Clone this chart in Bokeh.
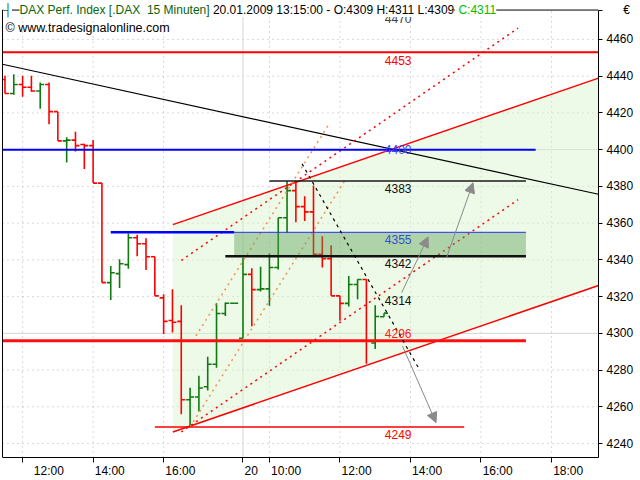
import numpy as np
from bokeh.plotting import figure
from bokeh.models import (Range1d, FixedTicker, Label, Arrow, NormalHead, ColumnDataSource)
from bokeh.core.properties import value
from bokeh.embed import file_html
from bokeh.resources import INLINE

# ---------------- data ----------------
bar_index = list(range(-2, 42))
opens = [4438.2, 4430.6, 4435.5, 4434.0, 4431.9, 4435.5, 4420.7, 4404.8, 4405.2, 4402.8,
         4402.2, 4381.8, 4327.6, 4332.5, 4337.4, 4352.0, 4348.8, 4341.7, 4319.3, 4307.0,
         4306.5, 4263.8, 4265.3, 4270.9, 4283.2, 4310.8, 4316.4, 4297.3, 4332.1, 4323.8,
         4324.2, 4335.8, 4362.9, 4377.7, 4369.0, 4366.1, 4343.0, 4340.6, 4320.4, 4316.3,
         4326.6, 4329.3, 4294.7, 4309.0]
highs = [4440.2, 4441.1, 4440.2, 4440.2, 4436.6, 4436.6, 4420.7, 4406.8, 4409.8, 4403.2,
         4405.3, 4381.8, 4336.6, 4340.3, 4354.4, 4353.7, 4351.7, 4341.7, 4321.3, 4324.0,
         4315.3, 4270.4, 4276.9, 4287.2, 4316.4, 4316.8, 4316.4, 4341.2, 4335.4, 4336.3,
         4343.5, 4362.9, 4383.0, 4382.7, 4374.6, 4380.5, 4352.9, 4347.9, 4320.4, 4331.2,
         4329.4, 4329.4, 4315.3, 4311.0]
lows = [4430.6, 4429.9, 4428.8, 4431.5, 4422.3, 4413.8, 4404.8, 4393.0, 4399.0, 4389.4,
        4381.8, 4327.6, 4318.2, 4324.7, 4335.2, 4342.0, 4334.5, 4320.4, 4299.6, 4300.5,
        4255.9, 4249.0, 4257.5, 4268.9, 4281.2, 4309.5, 4316.4, 4297.3, 4303.8, 4322.8,
        4315.0, 4334.8, 4354.8, 4360.5, 4361.2, 4342.4, 4335.8, 4320.4, 4306.8, 4314.6,
        4318.6, 4283.4, 4291.5, 4309.0]
closes = [4430.6, 4435.5, 4434.0, 4431.9, 4435.5, 4420.7, 4404.8, 4405.2, 4402.2, 4402.2,
          4381.8, 4327.6, 4333.0, 4337.9, 4352.0, 4348.8, 4341.7, 4320.4, 4306.5, 4306.0,
          4263.8, 4265.3, 4270.2, 4283.2, 4310.8, 4316.4, 4316.4, 4332.1, 4323.8, 4324.2,
          4335.8, 4362.9, 4377.7, 4369.0, 4366.1, 4343.0, 4340.6, 4320.4, 4316.3, 4326.6,
          4329.3, 4295.8, 4309.2, 4311.0]

time_ticks = [0, 8, 16, 25, 28, 36, 44, 52, 60]
time_labels = ["12:00", "14:00", "16:00", "20", "10:00", "12:00", "14:00", "16:00", "18:00"]
day_break = 25
price_ticks = list(range(4240, 4461, 20))
solid_price_grid = [4300, 4400]
currency = "\u20ac"

# horizontal level lines (value, from bar, to bar)
hl_values = [4453, 4400, 4355, 4355, 4383, 4342, 4296, 4249]
hl_from = [-2.28, -2.28, 10.0, 24.0, 28.0, 23.0, -2.28, 15.0]
hl_to = [65.33, 58.2, 24.0, 57.1, 57.1, 57.1, 57.1, 50.1]

# zone 4342-4355
zone_from, zone_to = 24.0, 57.1
zone_low, zone_high = 4342, 4355

# level annotations
level_values = [4470, 4453, 4400, 4383, 4355, 4342, 4314, 4296, 4249]
level_text = [str(v) for v in level_values]
level_at = 42.6

# long down trend line (bar, value)
trend_x = [-2.28, 65.33]
trend_y = [4446.5, 4375.7]

# channels: start bar, upper start value, lower start value, slope / bar
solid_ch = dict(start=17.05, end=65.33, up=4359.2, lo=4246.3, slope=1.652)
dotted_ch = dict(start=18.0, end=56.2, up=4339.7, lo=4246.3, slope=3.31)
orange_up = dict(start=19.3, end=34.7, v=4295.8, slope=7.64)
orange_lo = dict(start=19.0, end=36.5, v=4249.0, slope=7.64)

# projection (dashed)
proj_x = [31.7, 45.1]
proj_y = [4392.3, 4279.6]

# scenario arrows (x0, y0, x1, y1)
arrows = [(43.0, 4322.1, 46.0, 4352.5),
          (48.1, 4341.4, 51.1, 4382.0),
          (43.1, 4293.0, 46.9, 4251.4)]

# ---------------- frame geometry ----------------
X_LEFT, X_RIGHT = -2.28, 65.33       # plot borders in bar units
Y_BOTTOM, Y_TOP = 4232.4, 4476.0     # bottom border / header line
FONT = "Liberation Sans"

p = figure(width=636, height=480, output_backend="svg", toolbar_location=None,
           x_range=Range1d(-2.506, X_RIGHT), y_range=Range1d(Y_BOTTOM, 4481.2),
           min_border_left=0, min_border_right=35, min_border_top=0, min_border_bottom=21,
           y_axis_location="right")
p.background_fill_color = "white"
p.border_fill_color = "white"
p.outline_line_color = None
p.xgrid.visible = False
p.ygrid.visible = False

NB = "\u00a0"
xa = p.xaxis[0]
xa.ticker = FixedTicker(ticks=time_ticks)
xa.major_label_overrides = {t: NB * (5 if len(l) < 3 else 10) + l for t, l in zip(time_ticks, time_labels)}
xa.bounds = (X_LEFT, X_RIGHT)
xa.major_tick_out = 5
xa.major_tick_in = 0
xa.minor_tick_out = 0
xa.minor_tick_in = 0
xa.major_label_standoff = 1
xa.major_label_text_font = FONT
xa.major_label_text_font_size = "12px"
xa.major_label_text_color = "black"
xa.axis_line_color = "black"
xa.major_tick_line_color = "black"

ya = p.yaxis[0]
ya.ticker = FixedTicker(ticks=price_ticks + [Y_TOP])
ya.major_label_overrides = {Y_TOP: NB * 5 + currency}
ya.bounds = (Y_BOTTOM, Y_TOP)
ya.major_tick_out = 4
ya.major_tick_in = 0
ya.minor_tick_out = 0
ya.minor_tick_in = 0
ya.major_label_standoff = 4
ya.major_label_text_font = FONT
ya.major_label_text_font_size = "12px"
ya.major_label_text_color = "black"
ya.axis_line_color = "black"

# grid
gx = [t for t in time_ticks if t != day_break]
p.segment(x0=gx, y0=[Y_BOTTOM] * len(gx), x1=gx, y1=[Y_TOP] * len(gx),
          line_color="#b4b4b4", line_dash="1 4", line_width=1, level="underlay")
gy = [t for t in price_ticks if t not in solid_price_grid]
p.segment(x0=[X_LEFT] * len(gy), y0=gy, x1=[X_RIGHT] * len(gy), y1=gy,
          line_color="#b4b4b4", line_dash="1 4", line_width=1, level="underlay")
p.segment(x0=[X_LEFT] * 2, y0=solid_price_grid, x1=[X_RIGHT] * 2, y1=solid_price_grid,
          line_color="#d4d4d4", line_width=1, level="underlay")
p.segment(x0=[day_break], y0=[Y_BOTTOM], x1=[day_break], y1=[Y_TOP],
          line_color="#d4d4d4", line_width=1, level="underlay")

# light green channel fill
s = solid_ch
span_s = s["end"] - s["start"]
p.patch([s["start"], s["end"], s["end"], s["start"]],
        [s["up"], s["up"] + s["slope"] * span_s, s["lo"] + s["slope"] * span_s, s["lo"]],
        fill_color="#d6f5cc", fill_alpha=0.45, line_color=None)

# bars
idx = np.array(bar_index, dtype=float)
o = np.array(opens); h = np.array(highs); l = np.array(lows); c = np.array(closes)
cols = ["#0f7a0f" if cc >= oo else "#ff0000" for oo, cc in zip(o, c)]
src = ColumnDataSource(dict(x=idx, xl=np.maximum(idx - 0.45, X_LEFT), xr=idx + 0.45,
                            o=o, h=h, l=l, c=c, col=cols))
p.segment("x", "l", "x", "h", source=src, line_color="col", line_width=1.6)
p.segment("xl", "o", "x", "o", source=src, line_color="col", line_width=1.6)
p.segment("x", "c", "xr", "c", source=src, line_color="col", line_width=1.6)

# trend line
p.line(trend_x, trend_y, line_color="black", line_width=1.2)

# channel lines
for key in ("up", "lo"):
    p.line([s["start"], s["end"]], [s[key], s[key] + s["slope"] * span_s],
           line_color="#ff0000", line_width=1.5)
d = dotted_ch
for key in ("up", "lo"):
    p.line([d["start"], d["end"]], [d[key], d[key] + d["slope"] * (d["end"] - d["start"])],
           line_color="#ff0000", line_width=1.5, line_dash="2 4")
for ch in (orange_up, orange_lo):
    p.line([ch["start"], ch["end"]], [ch["v"], ch["v"] + ch["slope"] * (ch["end"] - ch["start"])],
           line_color="#f29050", line_width=1.5, line_dash="2 4")

# zone
p.quad(left=[zone_from], right=[zone_to], bottom=[zone_low], top=[zone_high],
       fill_color="#5a9e50", fill_alpha=0.42, line_color=None)

# horizontal levels
hl_colors = ["#ff0000", "#0000ff", "#0000ff", "#2a2aff", "#1a1a1a", "#111111", "#ff1010", "#ff0000"]
hl_widths = [2, 2, 2.5, 1, 1.5, 2.5, 3, 1.5]
for v, a, b, col, w in zip(hl_values, hl_from, hl_to, hl_colors, hl_widths):
    p.line([a, b], [v, v], line_color=col, line_width=w)

# projection
p.line(proj_x, proj_y, line_color="black", line_width=1.2, line_dash="3 4")

# level texts
lvl_colors = ["#404040", "#ff0000", "#4040ff", "#111111", "#3050d0", "#111111", "#111111", "#ff2020", "#ff0000"]
lvl_offsets = [-3, 8, 0, 8, 7, 7, -7, -7, 7]
p.text(x=[level_at] * len(level_values), y=level_values, text=level_text,
       text_color=lvl_colors, y_offset=lvl_offsets, text_align="center",
       text_baseline="middle", text_font=value(FONT), text_font_size="12px")

# arrows
for x0, y0, x1, y1 in arrows:
    p.add_layout(Arrow(end=NormalHead(size=10, fill_color="#8a8a8a", line_color="#8a8a8a"),
                       x_start=x0, y_start=y0, x_end=x1, y_end=y1,
                       line_color="#8a8a8a", line_width=1))

# borders: left edge and header line
p.line([X_LEFT, X_LEFT], [Y_BOTTOM, Y_TOP], line_color="black", line_width=1)
p.line([X_LEFT, X_RIGHT], [Y_TOP, Y_TOP], line_color="black", line_width=1)

# ---------------- header texts ----------------
AW = {' ': 278, '\u00a0': 278, '.': 278, ':': 278, '-': 333, '[': 278, ']': 278, 'D': 722,
      'A': 667, 'X': 667, 'P': 667, 'e': 556, 'r': 333, 'f': 278, 'I': 278, 'n': 556, 'd': 556,
      'x': 500, 'M': 833, 'i': 222, 'u': 556, 't': 278, 'O': 778, 'H': 722, 'L': 556, 'C': 722}


def tw(sx, size=12):
    return sum(AW.get(ch, 556) for ch in sx) * size / 1000.0


t1 = "DAX Perf. Index [.DAX\u00a0 15 Minuten]"
t2 = "\u00a020.01.2009 13:15:00 - O:4309 H:4311 L:4309"
t3 = "\u00a0C:4311"
x1 = 19
x2 = x1 + tw(t1)
x3 = x2 + tw(t2)
common = dict(y=Y_TOP, x_units="screen", y_units="data", text_font=FONT, text_font_size="12px",
              text_baseline="middle", background_fill_color="white")
p.add_layout(Label(x=3, text="\u2524", text_color="#0a640a", **common))
p.add_layout(Label(x=x1, text=t1, text_color="#0a640a", **common))
p.add_layout(Label(x=x2, text=t2, text_color="black", **common))
p.add_layout(Label(x=x3, text=t3, text_color="#00c000", **common))
p.add_layout(Label(x=5, y=4466.0, x_units="screen", y_units="data",
                   text="\u00a9 www.tradesignalonline.com", text_font=FONT,
                   text_font_size="12.5px", text_baseline="middle", text_color="black"))

open("out.html", "w").write(file_html(p, INLINE))
